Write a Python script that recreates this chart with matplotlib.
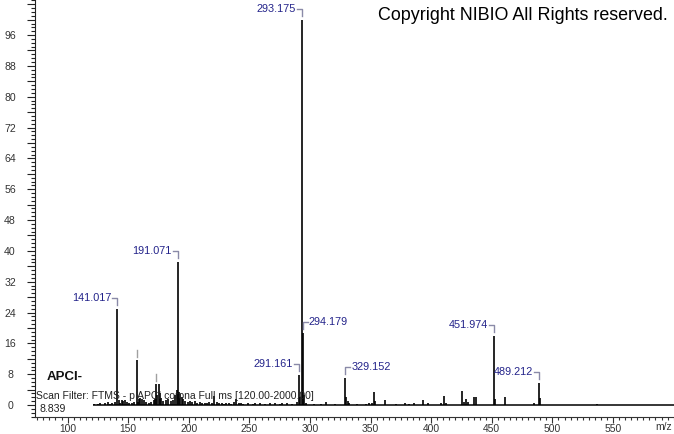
import matplotlib
matplotlib.use('Agg')
import matplotlib.pyplot as plt
from matplotlib.ticker import MultipleLocator, FuncFormatter, FixedLocator
from matplotlib.transforms import IdentityTransform
from matplotlib.lines import Line2D

plt.rcParams['font.family'] = ['Liberation Sans', 'DejaVu Sans']

# ---- data ----
mz = [122.0, 125.0, 127.0, 131.0, 133.0, 135.0, 137.0, 139.0, 141.017, 142.0,
      143.0, 145.0, 146.0, 147.0, 149.0, 151.0, 153.0, 155.0, 157.0, 158.0,
      159.0, 160.0, 161.0, 163.0, 165.0, 167.0, 169.0, 171.0, 172.0, 173.0,
      174.0, 175.5, 176.0, 177.0, 179.0, 181.0, 183.0, 185.0, 187.0, 189.0,
      190.0, 191.071, 192.0, 193.0, 194.0, 195.0, 197.0, 199.0, 201.0, 203.0,
      205.0, 207.0, 209.0, 211.0, 213.0, 215.0, 217.0, 219.0, 221.0, 223.0,
      225.0, 227.0, 229.0, 231.0, 233.0, 235.0, 237.0, 239.0, 241.0, 243.0,
      245.0, 249.0, 253.0, 255.0, 259.0, 263.0, 267.0, 271.0, 275.0, 277.0,
      281.0, 285.0, 289.0, 291.161, 292.0, 293.175, 294.179, 295.0, 297.0, 303.0,
      309.0, 313.0, 321.0, 329.152, 330.0, 331.0, 332.0, 339.0, 346.0, 349.0,
      351.0, 353.0, 354.0, 362.0, 371.0, 378.0, 382.0, 386.0, 393.0, 397.0,
      408.0, 410.5, 412.0, 425.5, 427.0, 429.0, 430.0, 435.0, 437.0, 451.974,
      453.0, 461.0, 485.0, 489.212, 490.0, 537.0]
intensity = [0.4, 0.3, 0.6, 0.5, 0.9, 0.4, 0.5, 0.7, 24.8, 1.2,
             0.6, 1.4, 1.0, 1.3, 0.8, 0.5, 0.6, 0.7, 11.7, 0.9,
             1.6, 1.9, 1.5, 1.2, 0.8, 0.6, 0.9, 1.2, 1.5, 5.4,
             2.5, 5.5, 3.0, 1.8, 1.0, 1.3, 1.5, 1.0, 1.2, 2.5,
             3.8, 37.1, 3.5, 2.8, 2.0, 1.5, 1.0, 0.8, 1.1, 0.7,
             1.0, 0.6, 0.8, 0.5, 0.6, 0.5, 0.7, 0.6, 2.3, 0.8,
             0.5, 0.6, 0.4, 0.5, 0.6, 0.4, 0.7, 1.5, 0.6, 0.5,
             0.4, 0.5, 0.4, 0.6, 0.5, 0.4, 0.6, 0.5, 0.4, 0.6,
             0.5, 0.4, 0.9, 7.7, 2.0, 100.0, 18.6, 2.5, 0.5, 0.4,
             0.3, 0.9, 0.3, 7.0, 2.2, 1.0, 0.6, 0.4, 0.4, 0.5,
             0.6, 3.5, 1.0, 1.3, 0.4, 0.5, 0.4, 0.5, 1.2, 0.6,
             0.5, 2.4, 0.6, 3.6, 0.8, 1.6, 0.8, 2.0, 2.2, 17.9,
             1.5, 2.2, 0.5, 5.8, 1.8, 0.4]

baseline_range = [121.0, 600.3]

label_mz = [141.017, 191.071, 291.161, 293.175, 294.179, 329.152, 451.974, 489.212]
label_int = [24.8, 37.1, 7.7, 100.0, 18.6, 7.0, 17.9, 5.8]
label_text = ['141.017', '191.071', '291.161', '293.175', '294.179', '329.152',
              '451.974', '489.212']
label_side = [-1, -1, -1, -1, 1, 1, -1, -1]

tick_only_mz = [157.0, 173.0]
tick_only_int = [11.7, 5.4]

x_tick_values = [100, 150, 200, 250, 300, 350, 400, 450, 500, 550]
y_label_values = [0, 8, 16, 24, 32, 40, 48, 56, 64, 72, 80, 88, 96]

title_text = 'Copyright NIBIO All Rights reserved.'
mode_text = 'APCI-'
filter_text = 'Scan Filter: FTMS - p APCI corona Full ms [120.00-2000.00]'
rt_text = '8.839'
x_unit = 'm/z'

# ---- figure ----
W, H = 674, 434
fig = plt.figure(figsize=(W / 100, H / 100), dpi=100)
ax = fig.add_axes([35 / W, 17 / H, 639 / W, 417 / H])
ax.set_xlim(73.1, 600.3)
ax.set_ylim(-3.1, 105.1)

for s in ['top', 'right']:
    ax.spines[s].set_visible(False)
ax.spines['left'].set_color('#222222')
ax.spines['bottom'].set_color('#333333')

ax.hlines(0, baseline_range[0], baseline_range[1], color='black', lw=1.1)
ax.vlines(mz, 0, intensity, color='black', lw=1.2)

# ticks
ax.xaxis.set_major_locator(FixedLocator(x_tick_values))
ax.xaxis.set_minor_locator(MultipleLocator(5))
ax.yaxis.set_major_locator(MultipleLocator(4))
ax.yaxis.set_minor_locator(MultipleLocator(1))
ax.yaxis.set_major_formatter(FuncFormatter(
    lambda v, p: f'{int(round(v))}' if int(round(v)) in y_label_values else ''))
ax.tick_params(axis='x', which='major', length=4, width=0.8, color='#333333',
               labelsize=7.4, labelcolor='#333333', pad=1)
ax.tick_params(axis='x', which='minor', length=2.5, width=0.8, color='#333333')
ax.tick_params(axis='y', which='major', length=6, width=0.8, color='#222222',
               labelsize=7.6, labelcolor='#333333', pad=12)
ax.tick_params(axis='y', which='minor', length=3, width=0.8, color='#222222')
for lab in ax.get_yticklabels():
    lab.set_horizontalalignment('center')

# peak labels with brackets
disp = IdentityTransform()
text_color = '#23238a'
brk_color = '#8a8aa8'
for m, h, t, s in zip(label_mz, label_int, label_text, label_side):
    px, py = ax.transData.transform((m, h))
    if s < 0:
        ax.add_line(Line2D([px - 5, px, px], [py + 11, py + 11, py + 4],
                           transform=disp, color=brk_color, lw=1.0, clip_on=False))
        ax.text(px - 6, py + 11, t, transform=disp, ha='right', va='center',
                fontsize=7.8, color=text_color)
    else:
        ax.add_line(Line2D([px + 5, px, px], [py + 11, py + 11, py + 4],
                           transform=disp, color=brk_color, lw=1.0, clip_on=False))
        ax.text(px + 6, py + 11, t, transform=disp, ha='left', va='center',
                fontsize=7.8, color=text_color)

for m, h in zip(tick_only_mz, tick_only_int):
    px, py = ax.transData.transform((m, h))
    ax.add_line(Line2D([px, px], [py + 3, py + 10], transform=disp,
                       color='#a0a0a0', lw=1.0, clip_on=False))

# texts
fig.text(668 / W, 1 - 15 / H, title_text, ha='right', va='center',
         fontsize=12.9, color='black')
fig.text(47 / W, 1 - 377 / H, mode_text, ha='left', va='center',
         fontsize=9.5, fontweight='bold', color='#111111')
fig.text(36 / W, 1 - 396 / H, filter_text, ha='left', va='center',
         fontsize=7.5, color='#222222')
fig.text(39 / W, 1 - 408.5 / H, rt_text, ha='left', va='center',
         fontsize=7.6, color='#222222')
fig.text(664 / W, 1 - 427 / H, x_unit, ha='center', va='center',
         fontsize=7.4, color='#333333')

fig.savefig('out.png', dpi=100)
